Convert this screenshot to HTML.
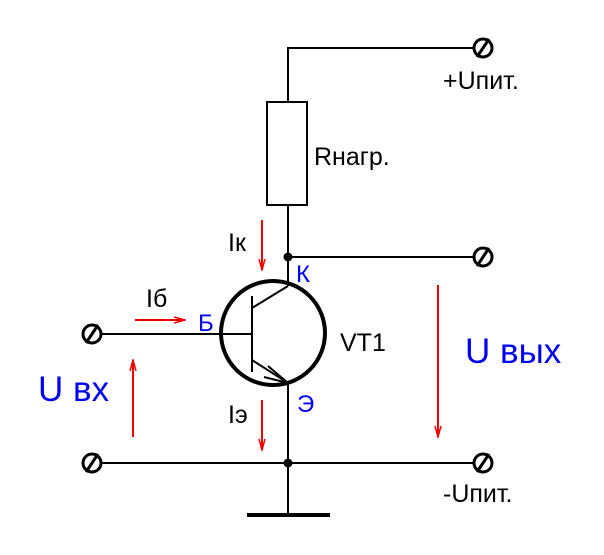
<!DOCTYPE html>
<html><head><style>body{margin:0;background:#fff}svg{display:block}</style></head><body>
<svg width="604" height="555" xmlns="http://www.w3.org/2000/svg" font-family="Liberation Sans, sans-serif">
<defs>
<marker id="a" markerWidth="12" markerHeight="12" refX="11" refY="6" orient="auto" markerUnits="userSpaceOnUse">
<path d="M0,3 L11,6 L0,9" fill="none" stroke="#e00" stroke-width="1.5"/></marker>
</defs>
<g stroke="#000" stroke-width="2" fill="none">
<polyline points="474,48 288,48 288,102"/>
<rect x="267" y="102" width="40" height="103"/>
<line x1="288" y1="205" x2="288" y2="286"/>
<line x1="288" y1="257" x2="474" y2="257"/>
<line x1="288" y1="383" x2="288" y2="515"/>
<line x1="101" y1="463" x2="474" y2="463"/>
<line x1="101" y1="334" x2="252" y2="334"/>
<line x1="252" y1="296" x2="252" y2="372"/>
<line x1="252" y1="308" x2="288" y2="286"/>
<line x1="252" y1="360" x2="288" y2="383"/>
<path d="M268,366 L288,383 L264,377" />
<circle cx="273" cy="333" r="52" stroke-width="4"/>
<line x1="247" y1="515" x2="330" y2="515" stroke-width="4"/>
<g stroke-width="3">
<circle cx="92" cy="334" r="9"/><line x1="86" y1="343" x2="98" y2="325"/>
<circle cx="92" cy="463" r="9"/><line x1="86" y1="472" x2="98" y2="454"/>
<circle cx="483" cy="48" r="9"/><line x1="477" y1="57" x2="489" y2="39"/>
<circle cx="483" cy="257" r="9"/><line x1="477" y1="266" x2="489" y2="248"/>
<circle cx="483" cy="463" r="9"/><line x1="477" y1="472" x2="489" y2="454"/>
</g>
</g>
<circle cx="288" cy="257" r="4.5"/><circle cx="288" cy="463" r="4.5"/>
<g stroke="#e00" stroke-width="2" marker-end="url(#a)">
<line x1="262" y1="220" x2="262" y2="270"/>
<line x1="262" y1="400" x2="262" y2="450"/>
<line x1="135" y1="320" x2="185" y2="320"/>
<line x1="133" y1="437" x2="133" y2="360"/>
<line x1="438" y1="285" x2="438" y2="437"/>
</g>
<g font-size="25">
<text x="443" y="89">+Uпит.</text>
<text x="314" y="165">Rнагр.</text>
<text x="228" y="251">Iк</text>
<text x="146" y="307">Iб</text>
<text x="228" y="423">Iэ</text>
<text x="340" y="351">VT1</text>
<text x="443" y="502">-Uпит.</text>
</g>
<g fill="#00e" font-size="24">
<text x="296" y="282">К</text>
<text x="198" y="331">Б</text>
<text x="297" y="412">Э</text>
<text x="38" y="401" font-size="35">U вх</text>
<text x="465" y="363" font-size="35">U вых</text>
</g>
</svg>
</body></html>
